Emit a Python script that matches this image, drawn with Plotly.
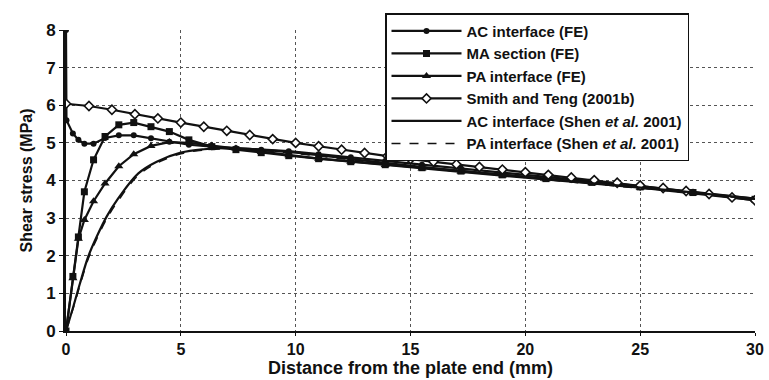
import plotly.graph_objects as go

# ---- data ----
fe_x = [0, 0.02, 0.3, 0.54, 0.8, 1.2, 1.7, 2.3, 2.95, 3.7, 4.5, 5.35, 6.35, 7.4, 8.5,
        9.7, 11.0, 12.4, 13.9, 15.5, 17.2, 19.0, 20.9, 22.9, 25.0, 27.3, 30.0]
ac_fe = [8.0, 5.6, 5.25, 5.08, 4.98, 4.98, 5.13, 5.2, 5.2, 5.12, 5.03, 4.95, 4.9, 4.86, 4.82,
         4.78, 4.7, 4.62, 4.52, 4.42, 4.32, 4.2, 4.09, 3.97, 3.85, 3.7, 3.52]
ma_x = [0, 0.3, 0.54, 0.8, 1.2, 1.7, 2.3, 2.95, 3.7, 4.5, 5.35, 6.35, 7.4, 8.5,
        9.7, 11.0, 12.4, 13.9, 15.5, 17.2, 19.0, 20.9, 22.9, 25.0, 27.3, 30.0]
ma_fe = [0, 1.45, 2.5, 3.7, 4.55, 5.17, 5.48, 5.54, 5.43, 5.3, 5.08, 4.9, 4.82, 4.74,
         4.66, 4.58, 4.5, 4.42, 4.34, 4.25, 4.15, 4.05, 3.95, 3.83, 3.68, 3.5]
pa_fe = [0, 1.4, 2.45, 2.95, 3.45, 3.92, 4.38, 4.7, 4.92, 5.02, 5.0, 4.93, 4.85, 4.76,
         4.67, 4.58, 4.5, 4.41, 4.32, 4.23, 4.13, 4.03, 3.93, 3.81, 3.66, 3.48]

st_x = list(range(0, 31))
smith_teng = [6.04, 5.98, 5.88, 5.76, 5.65, 5.54, 5.43, 5.32, 5.21, 5.1, 5.0, 4.91, 4.82,
              4.73, 4.65, 4.57, 4.5, 4.43, 4.36, 4.29, 4.22, 4.15, 4.08, 4.01, 3.94, 3.87,
              3.8, 3.72, 3.64, 3.55, 3.47]

shen_x = [0, 0.32, 0.61, 0.97, 1.34, 1.77, 2.28, 3.15, 3.95, 5.0, 6.0, 7.0, 8.0, 10, 12,
          14, 16, 18, 20, 22, 24, 26, 28, 30]
ac_shen = [0, 0.65, 1.27, 1.98, 2.51, 3.04, 3.53, 4.19, 4.5, 4.74, 4.83, 4.86, 4.84, 4.74,
           4.6, 4.46, 4.33, 4.21, 4.1, 3.98, 3.87, 3.76, 3.64, 3.52]
pa_shen = [0, 0.62, 1.22, 1.92, 2.45, 2.98, 3.47, 4.14, 4.46, 4.71, 4.81, 4.84, 4.82, 4.72,
           4.58, 4.44, 4.31, 4.19, 4.08, 3.96, 3.85, 3.74, 3.62, 3.5]

x_ticks = [0, 5, 10, 15, 20, 25, 30]
y_ticks = [0, 1, 2, 3, 4, 5, 6, 7, 8]

FONT = "Liberation Sans, Arial, sans-serif"
INK = "#111111"

fig = go.Figure()
fig.add_trace(go.Scatter(x=fe_x, y=ac_fe, mode="lines+markers", name="AC interface (FE)",
                         line=dict(color=INK, width=2.2),
                         marker=dict(symbol="circle", size=6, color=INK)))
fig.add_trace(go.Scatter(x=ma_x, y=ma_fe, mode="lines+markers", name="MA section (FE)",
                         line=dict(color=INK, width=2.2),
                         marker=dict(symbol="square", size=7, color=INK)))
fig.add_trace(go.Scatter(x=ma_x, y=pa_fe, mode="lines+markers", name="PA interface (FE)",
                         line=dict(color=INK, width=2.2),
                         marker=dict(symbol="triangle-up", size=8, color=INK)))
fig.add_trace(go.Scatter(x=st_x, y=smith_teng, mode="lines+markers", name="Smith and Teng (2001b)",
                         line=dict(color=INK, width=2.2),
                         marker=dict(symbol="diamond", size=7, color="white",
                                     line=dict(color=INK, width=1.6))))
fig.add_trace(go.Scatter(x=shen_x, y=ac_shen, mode="lines", name="AC interface (Shen <i>et al.</i> 2001)",
                         line=dict(color=INK, width=2.2, shape="spline")))
fig.add_trace(go.Scatter(x=shen_x, y=pa_shen, mode="lines", name="PA interface (Shen <i>et al.</i> 2001)",
                         line=dict(color=INK, width=1.5, dash="dash", shape="spline")))

fig.update_layout(
    width=769, height=380,
    margin=dict(l=66, r=14, t=30, b=49),
    paper_bgcolor="white", plot_bgcolor="white",
    font=dict(family=FONT, color=INK),
    showlegend=True,
    legend=dict(x=0.463, y=1.056, xanchor="left", yanchor="top",
                bgcolor="white", bordercolor=INK, borderwidth=1.5,
                font=dict(family=FONT, size=15, color=INK, weight="bold"),
                itemwidth=70, tracegroupgap=0),
)
fig.update_xaxes(range=[0, 30], tickvals=x_ticks, ticks="outside", ticklen=3,
                 tickcolor=INK, showline=True, linecolor=INK, linewidth=2,
                 showgrid=True, gridcolor="#555555", griddash="dot", gridwidth=1,
                 zeroline=False, automargin=False,
                 tickfont=dict(size=16, family=FONT, color=INK, weight="bold"),
                 title=dict(text="Distance from the plate end (mm)", standoff=4,
                            font=dict(size=18, family=FONT, color=INK, weight="bold")))
fig.update_yaxes(range=[0, 8], tickvals=y_ticks, ticks="outside", ticklen=4,
                 tickcolor=INK, showline=True, linecolor=INK, linewidth=3,
                 showgrid=True, gridcolor="#555555", griddash="dot", gridwidth=1,
                 zeroline=False, automargin=False,
                 tickfont=dict(size=17, family=FONT, color=INK, weight="bold"),
                 title=dict(text="Shear stress (MPa)", standoff=10,
                            font=dict(size=16, family=FONT, color=INK, weight="bold")))

fig.write_html("out.html")
